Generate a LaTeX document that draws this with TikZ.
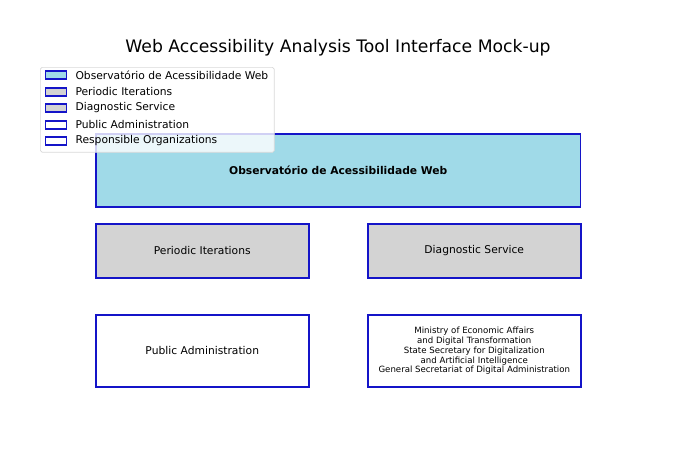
\documentclass[tikz,border=0pt]{standalone}
\usepackage{fontspec}
\setmainfont{DejaVu Sans}
\usepackage{xcolor}
\usepackage{tikz}
\usetikzlibrary{positioning}
\definecolor{boxblue}{RGB}{20,20,200}
\definecolor{obsfill}{RGB}{160,218,232}
\definecolor{itfill}{RGB}{211,211,211}

\begin{document}
\begin{tikzpicture}[
    x=0.02cm, y=-0.02cm,
    box/.style={rectangle, draw=boxblue, line width=0.9pt, anchor=north west, align=center, inner sep=0pt, font=\fontsize{6.1}{7.5}\selectfont},
    key/.style={rectangle, draw=boxblue, line width=0.8pt, minimum width=0.42cm, minimum height=0.16cm, inner sep=0pt},
    keytext/.style={right=0.16cm of #1, inner sep=0pt, font=\fontsize{6.1}{7.5}\selectfont}
]
\useasboundingbox (0,0) rectangle (690,460);

% Title
\node (title) at (338,48) {\fontsize{9.8}{12}\selectfont Web Accessibility Analysis Tool Interface Mock-up};

% Boxes
\node[box, fill=obsfill, minimum width=9.7cm, minimum height=1.46cm, font=\fontsize{6.1}{7.5}\selectfont\bfseries] (obs) at (95,133) {Observatório de Acessibilidade Web};
\node[box, fill=itfill, minimum width=4.26cm, minimum height=1.08cm] (iter) at (95,223) {Periodic Iterations};
\node[box, fill=itfill, minimum width=4.26cm, minimum height=1.08cm] (diag) at (367,223) {Diagnostic Service};
\node[box, minimum width=4.26cm, minimum height=1.44cm] (pub) at (95,314) {Public Administration};
\node[box, minimum width=4.26cm, minimum height=1.44cm, font=\fontsize{4.9}{5.6}\selectfont] (org) at (367,314) {Ministry of Economic Affairs\\and Digital Transformation\\State Secretary for Digitalization\\and Artificial Intelligence\\General Secretariat of Digital Administration};

% Legend
\node[rectangle, rounded corners=1pt, draw=black!15, fill=white, fill opacity=0.8, anchor=north west, minimum width=4.68cm, minimum height=1.7cm] (legend) at (40,67) {};
\node[key, fill=obsfill] (k1) at (56,75) {};
\node[key, fill=itfill] (k2) at (56,92) {};
\node[key, fill=itfill] (k3) at (56,108) {};
\node[key] (k4) at (56,125) {};
\node[key] (k5) at (56,141) {};
\node[keytext=k1] (t1) {Observatório de Acessibilidade Web};
\node[keytext=k2] (t2) {Periodic Iterations};
\node[keytext=k3] (t3) {Diagnostic Service};
\node[keytext=k4] (t4) {Public Administration};
\node[keytext=k5] (t5) {Responsible Organizations};

\end{tikzpicture}
\end{document}
